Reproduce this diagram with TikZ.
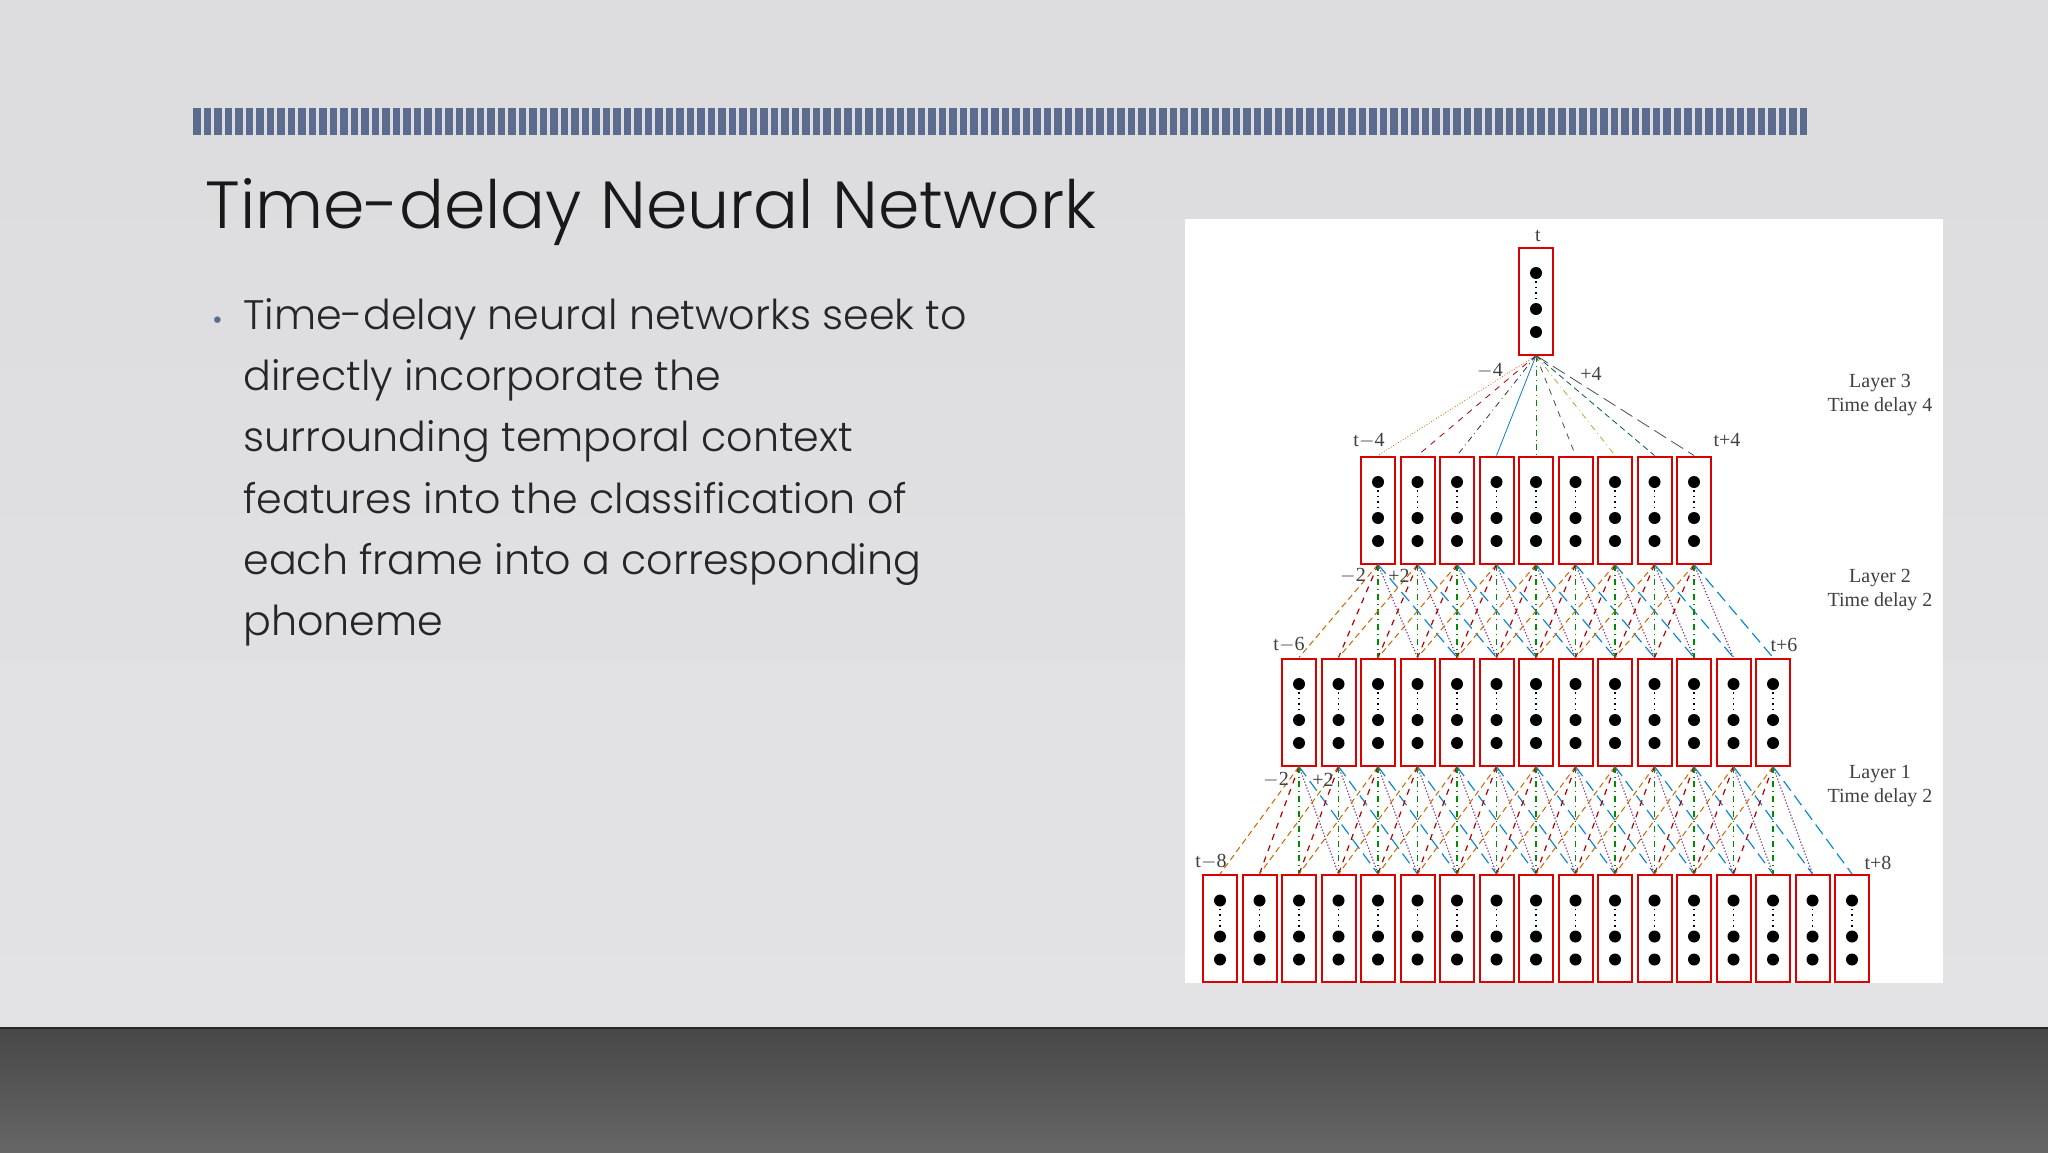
\documentclass[tikz,border=0pt]{standalone}
\usepackage{fontspec}
\usetikzlibrary{calc}
\setmainfont{Poppins}[UprightFont=* Light]
\newfontfamily\dserif{Liberation Serif}
\definecolor{stripe}{HTML}{5C6C8E}
\definecolor{bgtop}{HTML}{DCDCDF}
\definecolor{bgbot}{HTML}{E3E3E5}
\begin{document}
\begin{tikzpicture}[x=0.5pt,y=-0.5pt,
  box/.style={draw=red!85!black,line width=1pt,fill=white,minimum width=17pt,minimum height=53.5pt,inner sep=0pt},
  lab/.style={font=\dserif\fontsize{10}{12}\selectfont,text=black!75,inner sep=0pt},
  ofs1/.style={draw=orange!80!black,densely dashed,line width=0.5pt},
  ofs2/.style={draw=red!70!black,dashed,line width=0.6pt},
  ofs3/.style={draw=green!55!black,dash dot,line width=0.6pt},
  ofs4/.style={draw=violet!60!gray,densely dotted,line width=0.6pt},
  ofs5/.style={draw=cyan!70!blue,dash pattern=on 6pt off 3pt,line width=0.6pt},
  body/.style={font=\fontsize{20.6}{30}\selectfont,text=black!85,anchor=base west,inner sep=0pt}]
\useasboundingbox (0,0) rectangle (2048,1152);
\shade[top color=bgtop, bottom color=bgbot] (0,0) rectangle (2048,1028);
\shade[top color=black!72, bottom color=black!60] (0,1028) rectangle (2048,1152);
\draw[black!85,line width=1pt] (0,1028) -- (2048,1028);
% stripes
\foreach \k in {0,...,153} {\fill[stripe] (193+\k*10.5,108) rectangle ++(7.5,27);}
\node[font=\fontsize{33.3}{40}\selectfont,text=black!90,anchor=base west,inner sep=0pt] (title) at (205,228) {Time-delay Neural Network};
\node[text=stripe,font=\fontsize{14}{14}\selectfont,anchor=base west,inner sep=0pt] (bul) at (212,329) {•};
\node[body] (b1) at (243,329) {Time-delay neural networks seek to};
\node[body] (b2) at (243,390) {directly incorporate the};
\node[body] (b3) at (243,451) {surrounding temporal context};
\node[body] (b4) at (243,513) {features into the classification of};
\node[body] (b5) at (243,574) {each frame into a corresponding};
\node[body] (b6) at (243,635) {phoneme};
% panel
\fill[white] (1185,219) rectangle (1943,983);
% boxes
\foreach \j in {1,...,17}{\node[box] (a\j) at ({1220+(\j-1)*39.5},928.5) {};}
\foreach \j in {1,...,13}{\node[box] (b\j) at ({1299+(\j-1)*39.5},712) {};}
\foreach \j in {1,...,9}{\node[box] (c\j) at ({1378+(\j-1)*39.5},510) {};}
\node[box] (top) at (1536,301) {};
% edges
\foreach \j in {1,...,13}{\foreach \d in {1,...,5}{\pgfmathtruncatemacro\t{\j+\d-1}\draw[ofs\d] (b\j.south) -- (a\t.north);}}
\foreach \j in {1,...,9}{\foreach \d in {1,...,5}{\pgfmathtruncatemacro\t{\j+\d-1}\draw[ofs\d] (c\j.south) -- (b\t.north);}}
\draw[orange!80!black,densely dotted] (top.south) -- (c1.north);
\draw[red!70!black,dashed] (top.south) -- (c2.north);
\draw[black!80,dash dot] (top.south) -- (c3.north);
\draw[cyan!60!blue] (top.south) -- (c4.north);
\draw[green!55!black,dash dot] (top.south) -- (c5.north);
\draw[black!70,dashed] (top.south) -- (c6.north);
\draw[olive!70,dash dot] (top.south) -- (c7.north);
\draw[teal!70!black,densely dashed] (top.south) -- (c8.north);
\draw[black!70,dash pattern=on 7pt off 3pt] (top.south) -- (c9.north);
% dots
\foreach \n in {a1,a2,a3,a4,a5,a6,a7,a8,a9,a10,a11,a12,a13,a14,a15,a16,a17,b1,b2,b3,b4,b5,b6,b7,b8,b9,b10,b11,b12,b13,c1,c2,c3,c4,c5,c6,c7,c8,c9,top}{
  \fill[black] ($(\n.center)+(0,-28)$) circle (3pt);
  \fill[black] ($(\n.center)+(0,8)$) circle (3pt);
  \fill[black] ($(\n.center)+(0,31)$) circle (3pt);
  \draw[black,line width=0.8pt,dash pattern=on 0.8pt off 2pt] ($(\n.center)+(0,-20)$) -- ($(\n.center)+(0,2)$);
}
% labels
\node[lab] (lt) at (1538,236) {t};
\node[lab] (lm4) at (1490,371) {$-$4};
\node[lab] (lp4) at (1591,374) {+4};
\node[lab] (ltm4) at (1369,441) {t$-$4};
\node[lab] (ltp4) at (1727,440) {t+4};
\node[lab] (lm2a) at (1353,576) {$-$2};
\node[lab] (lp2a) at (1399,576) {+2};
\node[lab] (ltm6) at (1289,645) {t$-$6};
\node[lab] (ltp6) at (1784,645) {t+6};
\node[lab] (lm2b) at (1276,780) {$-$2};
\node[lab] (lp2b) at (1323,780) {+2};
\node[lab] (ltm8) at (1211,862) {t$-$8};
\node[lab] (ltp8) at (1878,863) {t+8};
\node[lab,align=center] (L3) at (1880,395) {Layer 3\\Time delay 4};
\node[lab,align=center] (L2) at (1880,590) {Layer 2\\Time delay 2};
\node[lab,align=center] (L1) at (1880,786) {Layer 1\\Time delay 2};
\end{tikzpicture}
\end{document}
